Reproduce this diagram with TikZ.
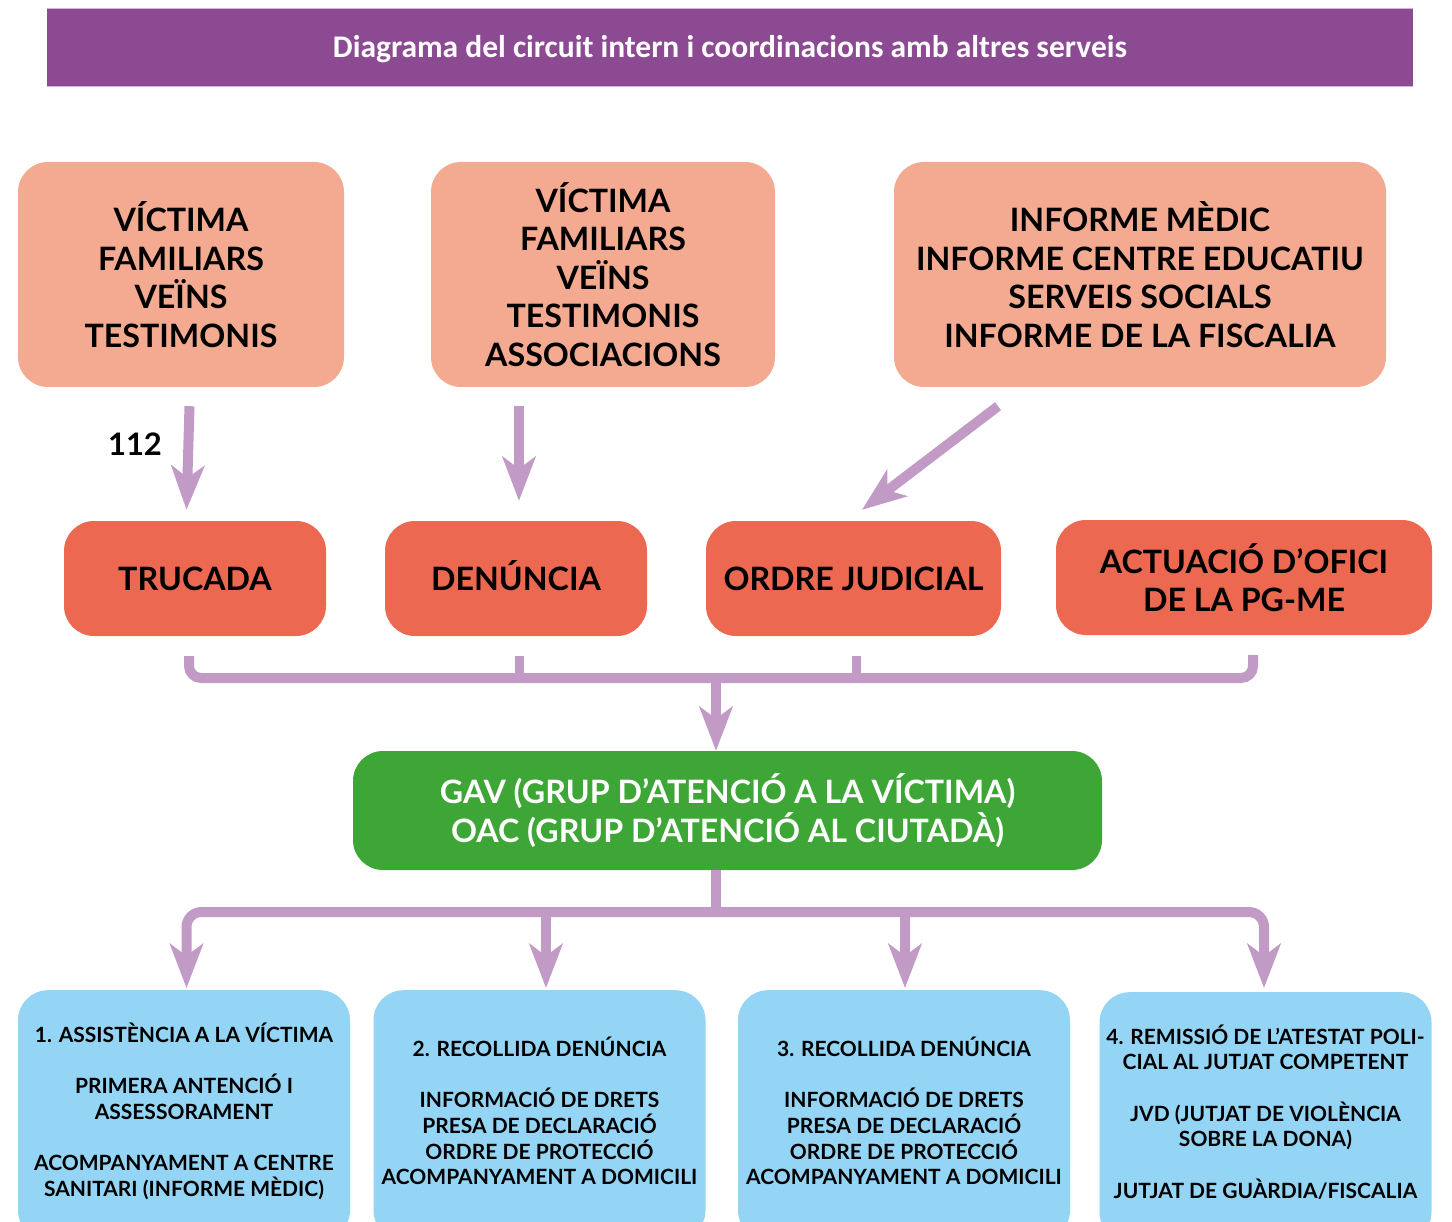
\documentclass[tikz,border=0pt]{standalone}
\usepackage{fontspec}
\setmainfont{Lato}
\newfontfamily\titlefont{Carlito}
\usetikzlibrary{arrows.meta,calc}
\definecolor{ttl}{HTML}{8C4A93}
\definecolor{ttledge}{HTML}{D2B5D5}
\definecolor{salmon}{HTML}{F4AA91}
\definecolor{redbox}{HTML}{EC6851}
\definecolor{greenbox}{HTML}{3EA636}
\definecolor{bluebox}{HTML}{94D5F5}
\definecolor{arrowc}{HTML}{C19AC6}
\tikzset{
  box/.style={rounded corners=30pt, align=center, inner sep=0pt, font=\bfseries\fontsize{32.2}{38.5}\selectfont},
  topbox/.style={box, fill=salmon, minimum height=225pt},
  midbox/.style={box, fill=redbox, minimum height=115pt},
  oneline/.style={text height=23.1pt, text depth=0pt},
  gavbox/.style={box, fill=greenbox, text=white, minimum height=119pt, minimum width=749pt},
  lowbox/.style={rounded corners=30pt, fill=bluebox, minimum width=332pt, minimum height=250pt, inner sep=0pt},
  lowtext/.style={align=center, inner sep=0pt, font=\bfseries\fontsize{21}{25.7}\selectfont},
  bar/.style={draw=arrowc, line width=10pt},
  arr/.style={draw=arrowc, line width=10pt, -{Stealth[length=44pt,width=33pt,inset=12pt]}},
}
\begin{document}
\begin{tikzpicture}[x=1pt,y=-1pt]
\useasboundingbox (0,0) rectangle (1452,1222);
\clip (0,0) rectangle (1452,1222);

% title
\node[fill=ttl, minimum width=1366pt, minimum height=77pt, inner sep=0pt,
      text=white, text height=20pt, text depth=0pt,
      font=\titlefont\bfseries\fontsize{31.5}{36}\selectfont] (title) at (730,47.5)
  {Diagrama del circuit intern i coordinacions amb altres serveis};
\draw[ttledge, line width=1.2pt] (title.north west) -- (title.north east);
\draw[ttledge, line width=1.2pt] (title.south west) -- (title.south east);

% top row
\node[topbox, minimum width=326pt] (A) at (181,274.5) {VÍCTIMA\\FAMILIARS\\VEÏNS\\TESTIMONIS};
\node[topbox, minimum width=344pt] (B) at (603,274.5) {VÍCTIMA\\FAMILIARS\\VEÏNS\\TESTIMONIS\\ASSOCIACIONS};
\node[topbox, minimum width=492pt] (C) at (1140,274.5) {INFORME MÈDIC\\INFORME CENTRE EDUCATIU\\SERVEIS SOCIALS\\INFORME DE LA FISCALIA};

% middle row
\node[midbox, oneline, minimum width=262pt] (T) at (195,578.5) {TRUCADA};
\node[midbox, oneline, minimum width=262pt] (D) at (516,578.5) {DENÚNCIA};
\node[midbox, oneline, minimum width=295pt] (O) at (853.5,578.5) {ORDRE JUDICIAL};
\node[midbox, minimum width=376pt] (P) at (1244,577.5) {ACTUACIÓ D’OFICI\\DE LA PG-ME};

% GAV
\node[gavbox] (G) at (727.5,810.5) {GAV (GRUP D’ATENCIÓ A LA VÍCTIMA)\\OAC (GRUP D’ATENCIÓ AL CIUTADÀ)};

% bottom boxes
\node[lowbox, anchor=north] (b1) at (184,990) {};
\node[lowbox, anchor=north] (b2) at (539.5,990) {};
\node[lowbox, anchor=north] (b3) at (904,990) {};
\node[lowbox, anchor=north] (b4) at (1265.5,992) {};
\node[lowtext] (b1t) at (184,1111) {1. ASSISTÈNCIA A LA VÍCTIMA\\[25.7pt]PRIMERA ANTENCIÓ I\\ASSESSORAMENT\\[25.7pt]ACOMPANYAMENT A CENTRE\\SANITARI (INFORME MÈDIC)};
\node[lowtext] (b2t) at (539.5,1111) {2. RECOLLIDA DENÚNCIA\\[25.7pt]INFORMACIÓ DE DRETS\\PRESA DE DECLARACIÓ\\ORDRE DE PROTECCIÓ\\ACOMPANYAMENT A DOMICILI};
\node[lowtext] (b3t) at (904,1111) {3. RECOLLIDA DENÚNCIA\\[25.7pt]INFORMACIÓ DE DRETS\\PRESA DE DECLARACIÓ\\ORDRE DE PROTECCIÓ\\ACOMPANYAMENT A DOMICILI};
\node[lowtext] (b4t) at (1265.5,1112) {4. REMISSIÓ DE L’ATESTAT POLI-\\CIAL AL JUTJAT COMPETENT\\[25.7pt]JVD (JUTJAT DE VIOLÈNCIA\\SOBRE LA DONA)\\[25.7pt]JUTJAT DE GUÀRDIA/FISCALIA};

% top arrows
\draw[arr] ($(A.south)+(8.5,19)$) -- ($(T.north)+(-8.5,-11)$);
\node[font=\bfseries\fontsize{31}{36}\selectfont, inner sep=0pt] (n112) at (135,444) {112};
\draw[arr] ($(B.south)+(-84,19)$) -- ($(D.north)+(3,-20)$);
\draw[arr] ($(C.south)+(-142,19)$) -- ($(O.north)+(8.5,-11)$);

% bracket to GAV
\coordinate (s1) at ($(T.south)+(-6,20)$);
\coordinate (s2) at ($(D.south)+(3,20)$);
\coordinate (s3) at ($(O.south)+(3,20)$);
\coordinate (s4) at ($(P.south)+(9,20)$);
\coordinate (j1) at (716,678);
\draw[bar, rounded corners=12pt] (s1) |- (j1) -| (s4);
\draw[bar, line width=9pt] (s2) -- (s2 |- j1);
\draw[bar, line width=9pt] (s3) -- (s3 |- j1);
\draw[arr] ($(j1)+(0,-4)$) -- (j1 |- G.north);

% distribution from GAV
\coordinate (j2) at (716,912);
\coordinate (t1) at ($(b1.north)+(2.5,-2)$);
\coordinate (t2) at ($(b2.north)+(6.5,-2)$);
\coordinate (t3) at ($(b3.north)+(1,-2)$);
\coordinate (t4) at ($(b4.north)+(-1.5,-4)$);
\draw[bar] (j2 |- G.south) -- ($(j2)+(0,5)$);
\draw[arr, rounded corners=15pt] (j2) -| (t1);
\draw[arr, rounded corners=15pt] (j2) -| (t4);
\draw[arr] ($(t2 |- j2)+(0,-4)$) -- (t2);
\draw[arr] ($(t3 |- j2)+(0,-4)$) -- (t3);
\end{tikzpicture}
\end{document}
